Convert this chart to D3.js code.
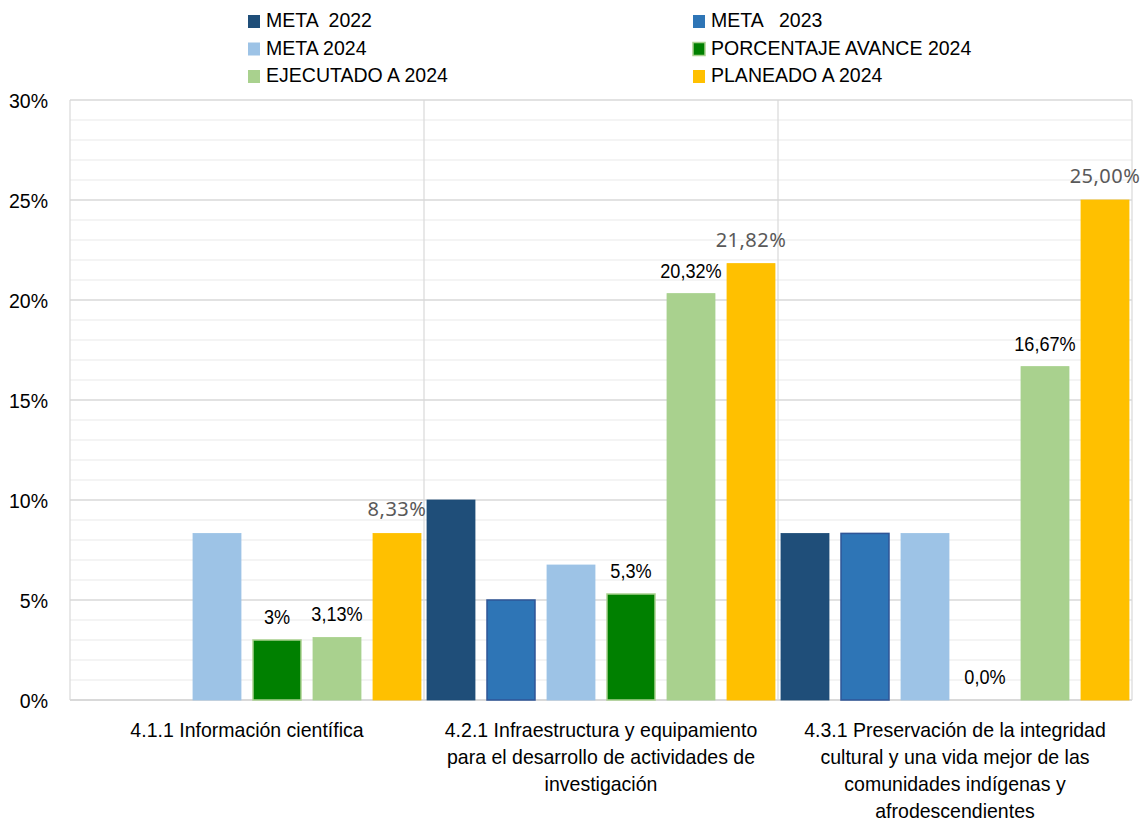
<!DOCTYPE html>
<html>
<head>
<meta charset="utf-8">
<script src="https://cdn.jsdelivr.net/npm/d3@7"></script>
<style>
  body { margin: 0; background: #fff; }
  svg text { font-family: "Liberation Sans", Arial, sans-serif; }
</style>
</head>
<body>
<div class="chart"></div>
<script>
//////////////////////////////////////////////////////////////
///////////////////////// Data ///////////////////////////////
//////////////////////////////////////////////////////////////

var categories = [
  ["4.1.1 Información científica"],
  ["4.2.1 Infraestructura y equipamiento", "para el desarrollo de actividades de", "investigación"],
  ["4.3.1 Preservación de la integridad", "cultural y una vida mejor de las", "comunidades indígenas y", "afrodescendientes"]
];
var seriesNames = ["META  2022", "META   2023", "META 2024", "PORCENTAJE AVANCE 2024", "EJECUTADO A 2024", "PLANEADO A 2024"];
var seriesColors = ["#1F4E79", "#2E75B6", "#9DC3E6", "#008000", "#A9D18E", "#FFC000"];
var seriesStroke = ["#1F4E79", "#2F5597", "#9DC3E6", "#A9D18E", "#A9D18E", "#FFC000"];

var meta2022 = [null, 10, 8.33];
var meta2023 = [null, 5, 8.33];
var meta2024 = [8.33, 6.75, 8.33];
var avance2024 = [3, 5.3, 0];
var ejecutado2024 = [3.13, 20.32, 16.67];
var planeado2024 = [8.33, 21.82, 25];

var avanceLabels = ["3%", "5,3%", "0,0%"];
var ejecutadoLabels = ["3,13%", "20,32%", "16,67%"];
var planeadoLabels = ["8,33%", "21,82%", "25,00%"];

var yTicks = [0, 5, 10, 15, 20, 25, 30];
var yMinor = d3.range(0, 31, 1);

var allSeries = [meta2022, meta2023, meta2024, avance2024, ejecutado2024, planeado2024];

//////////////////////////////////////////////////////////////
////////////////////// Settings //////////////////////////////
//////////////////////////////////////////////////////////////

var W = 1141, H = 823;
var plot = {left: 70, right: 1132, top: 100, bottom: 700};
var narrow = 0.93; // narrow-font look: Arial squeezed horizontally

var svg = d3.select(".chart").append("svg")
    .attr("width", W)
    .attr("height", H);

var x0 = d3.scaleBand().domain(d3.range(categories.length)).range([plot.left, plot.right]).padding(0);
var x1 = d3.scaleBand().domain(d3.range(seriesNames.length)).range([0, x0.bandwidth()])
    .paddingInner(0.2).paddingOuter(0.05);
var y = d3.scaleLinear().domain([0, 30]).range([plot.bottom, plot.top]);

function place(x, y) {
  return "translate(" + x + "," + y + ") scale(" + narrow + ",1)";
}

//////////////////////////////////////////////////////////////
////////////////////// Grid & axes ///////////////////////////
//////////////////////////////////////////////////////////////

svg.append("g").selectAll("line")
    .data(yMinor.filter(function(d) { return d % 5 !== 0; })).enter()
    .append("line")
      .attr("x1", plot.left).attr("x2", plot.right)
      .attr("y1", function(d) { return y(d); }).attr("y2", function(d) { return y(d); })
      .attr("stroke", "#f0f0f0").attr("stroke-width", 1.5);

svg.append("g").selectAll("line")
    .data(yTicks).enter()
    .append("line")
      .attr("x1", plot.left).attr("x2", plot.right)
      .attr("y1", function(d) { return y(d); }).attr("y2", function(d) { return y(d); })
      .attr("stroke", "#d9d9d9").attr("stroke-width", function(d) { return d === 0 ? 2 : 1.5; });

// vertical separators
svg.append("g").selectAll("line")
    .data(d3.range(categories.length + 1)).enter()
    .append("line")
      .attr("x1", function(d) { return d < categories.length ? x0(d) : plot.right; })
      .attr("x2", function(d) { return d < categories.length ? x0(d) : plot.right; })
      .attr("y1", plot.top).attr("y2", plot.bottom)
      .attr("stroke", "#d9d9d9").attr("stroke-width", 1.2);

var yAxis = d3.axisLeft(y).tickValues(yTicks).tickSize(0).tickPadding(0)
    .tickFormat(function(d) { return d + "%"; });

svg.append("g")
    .attr("class", "y axis")
    .attr("transform", "translate(" + plot.left + ",0)")
    .call(yAxis)
    .call(function(g) { g.select(".domain").remove(); })
    .selectAll("text")
      .attr("x", 0).attr("dy", null).attr("y", 7.5)
      .attr("transform", "translate(-22,0) scale(" + narrow + ",1)")
      .style("font-size", "21px")
      .style("font-family", "'Liberation Sans', Arial, sans-serif")
      .attr("fill", "#000");

//////////////////////////////////////////////////////////////
///////////////////////// Bars ///////////////////////////////
//////////////////////////////////////////////////////////////

var groups = svg.append("g").selectAll("g")
    .data(categories).enter()
    .append("g")
      .attr("transform", function(d, i) { return "translate(" + x0(i) + ",0)"; });

groups.selectAll("rect")
    .data(function(d, i) {
      return allSeries.map(function(s, k) { return {k: k, v: s[i]}; })
        .filter(function(e) { return e.v !== null && e.v > 0; });
    }).enter()
    .append("rect")
      .attr("x", function(d) { return x1(d.k); })
      .attr("y", function(d) { return y(d.v); })
      .attr("width", x1.bandwidth())
      .attr("height", function(d) { return y(0) - y(d.v); })
      .attr("fill", function(d) { return seriesColors[d.k]; })
      .attr("stroke", function(d) { return seriesStroke[d.k]; })
      .attr("stroke-width", function(d) { return d.k === 1 || d.k === 3 ? 1.5 : 0.8; });

// data labels
function addLabels(values, labels, k) {
  svg.append("g").selectAll("text")
    .data(values).enter()
    .append("text")
      .attr("transform", function(d, i) {
        return place(x0(i) + x1(k) + x1.bandwidth() / 2, y(d) - 16);
      })
      .attr("text-anchor", "middle")
      .style("font-size", "19.5px")
      .attr("fill", "#000")
      .text(function(d, i) { return labels[i]; });
}
addLabels(avance2024, avanceLabels, 3);
addLabels(ejecutado2024, ejecutadoLabels, 4);

svg.append("g").selectAll("text")
    .data(planeado2024).enter()
    .append("text")
      .attr("x", function(d, i) { return x0(i) + x1(5) + x1.bandwidth() / 2; })
      .attr("y", function(d) { return y(d) - 17; })
      .attr("text-anchor", "middle")
      .style("font-family", "'Noto Sans', sans-serif")
      .style("font-size", "20px")
      .style("letter-spacing", "0.5px")
      .attr("fill", "#595959")
      .text(function(d, i) { return planeadoLabels[i]; });

// category labels
svg.append("g").selectAll("text")
    .data(categories).enter()
    .append("text")
      .attr("transform", function(d, i) { return place(x0(i) + x0.bandwidth() / 2, 737); })
      .attr("text-anchor", "middle")
      .style("font-size", "21px")
      .attr("fill", "#000")
      .each(function(d) {
        var t = d3.select(this);
        d.forEach(function(line, j) {
          t.append("tspan").attr("x", 0).attr("dy", j === 0 ? 0 : 27).text(line);
        });
      });

//////////////////////////////////////////////////////////////
//////////////////////// Legend //////////////////////////////
//////////////////////////////////////////////////////////////

var legendX = [248, 693];
var legendY = [27, 54.5, 82];

var legend = svg.append("g").selectAll("g")
    .data(seriesNames).enter()
    .append("g")
      .attr("transform", function(d, i) {
        return "translate(" + legendX[i % 2] + "," + legendY[Math.floor(i / 2)] + ")";
      });

legend.append("rect")
    .attr("x", 0).attr("y", -12)
    .attr("width", 12).attr("height", 13)
    .attr("fill", function(d, i) { return seriesColors[i]; })
    .attr("stroke", function(d, i) { return i === 3 ? "#A9D18E" : "none"; })
    .attr("stroke-width", 1.5);

legend.append("text")
    .attr("transform", place(18, 0))
    .style("font-size", "21px")
    .style("white-space", "pre")
    .attr("xml:space", "preserve")
    .attr("fill", "#000")
    .text(function(d) { return d; });
</script>
</body>
</html>
